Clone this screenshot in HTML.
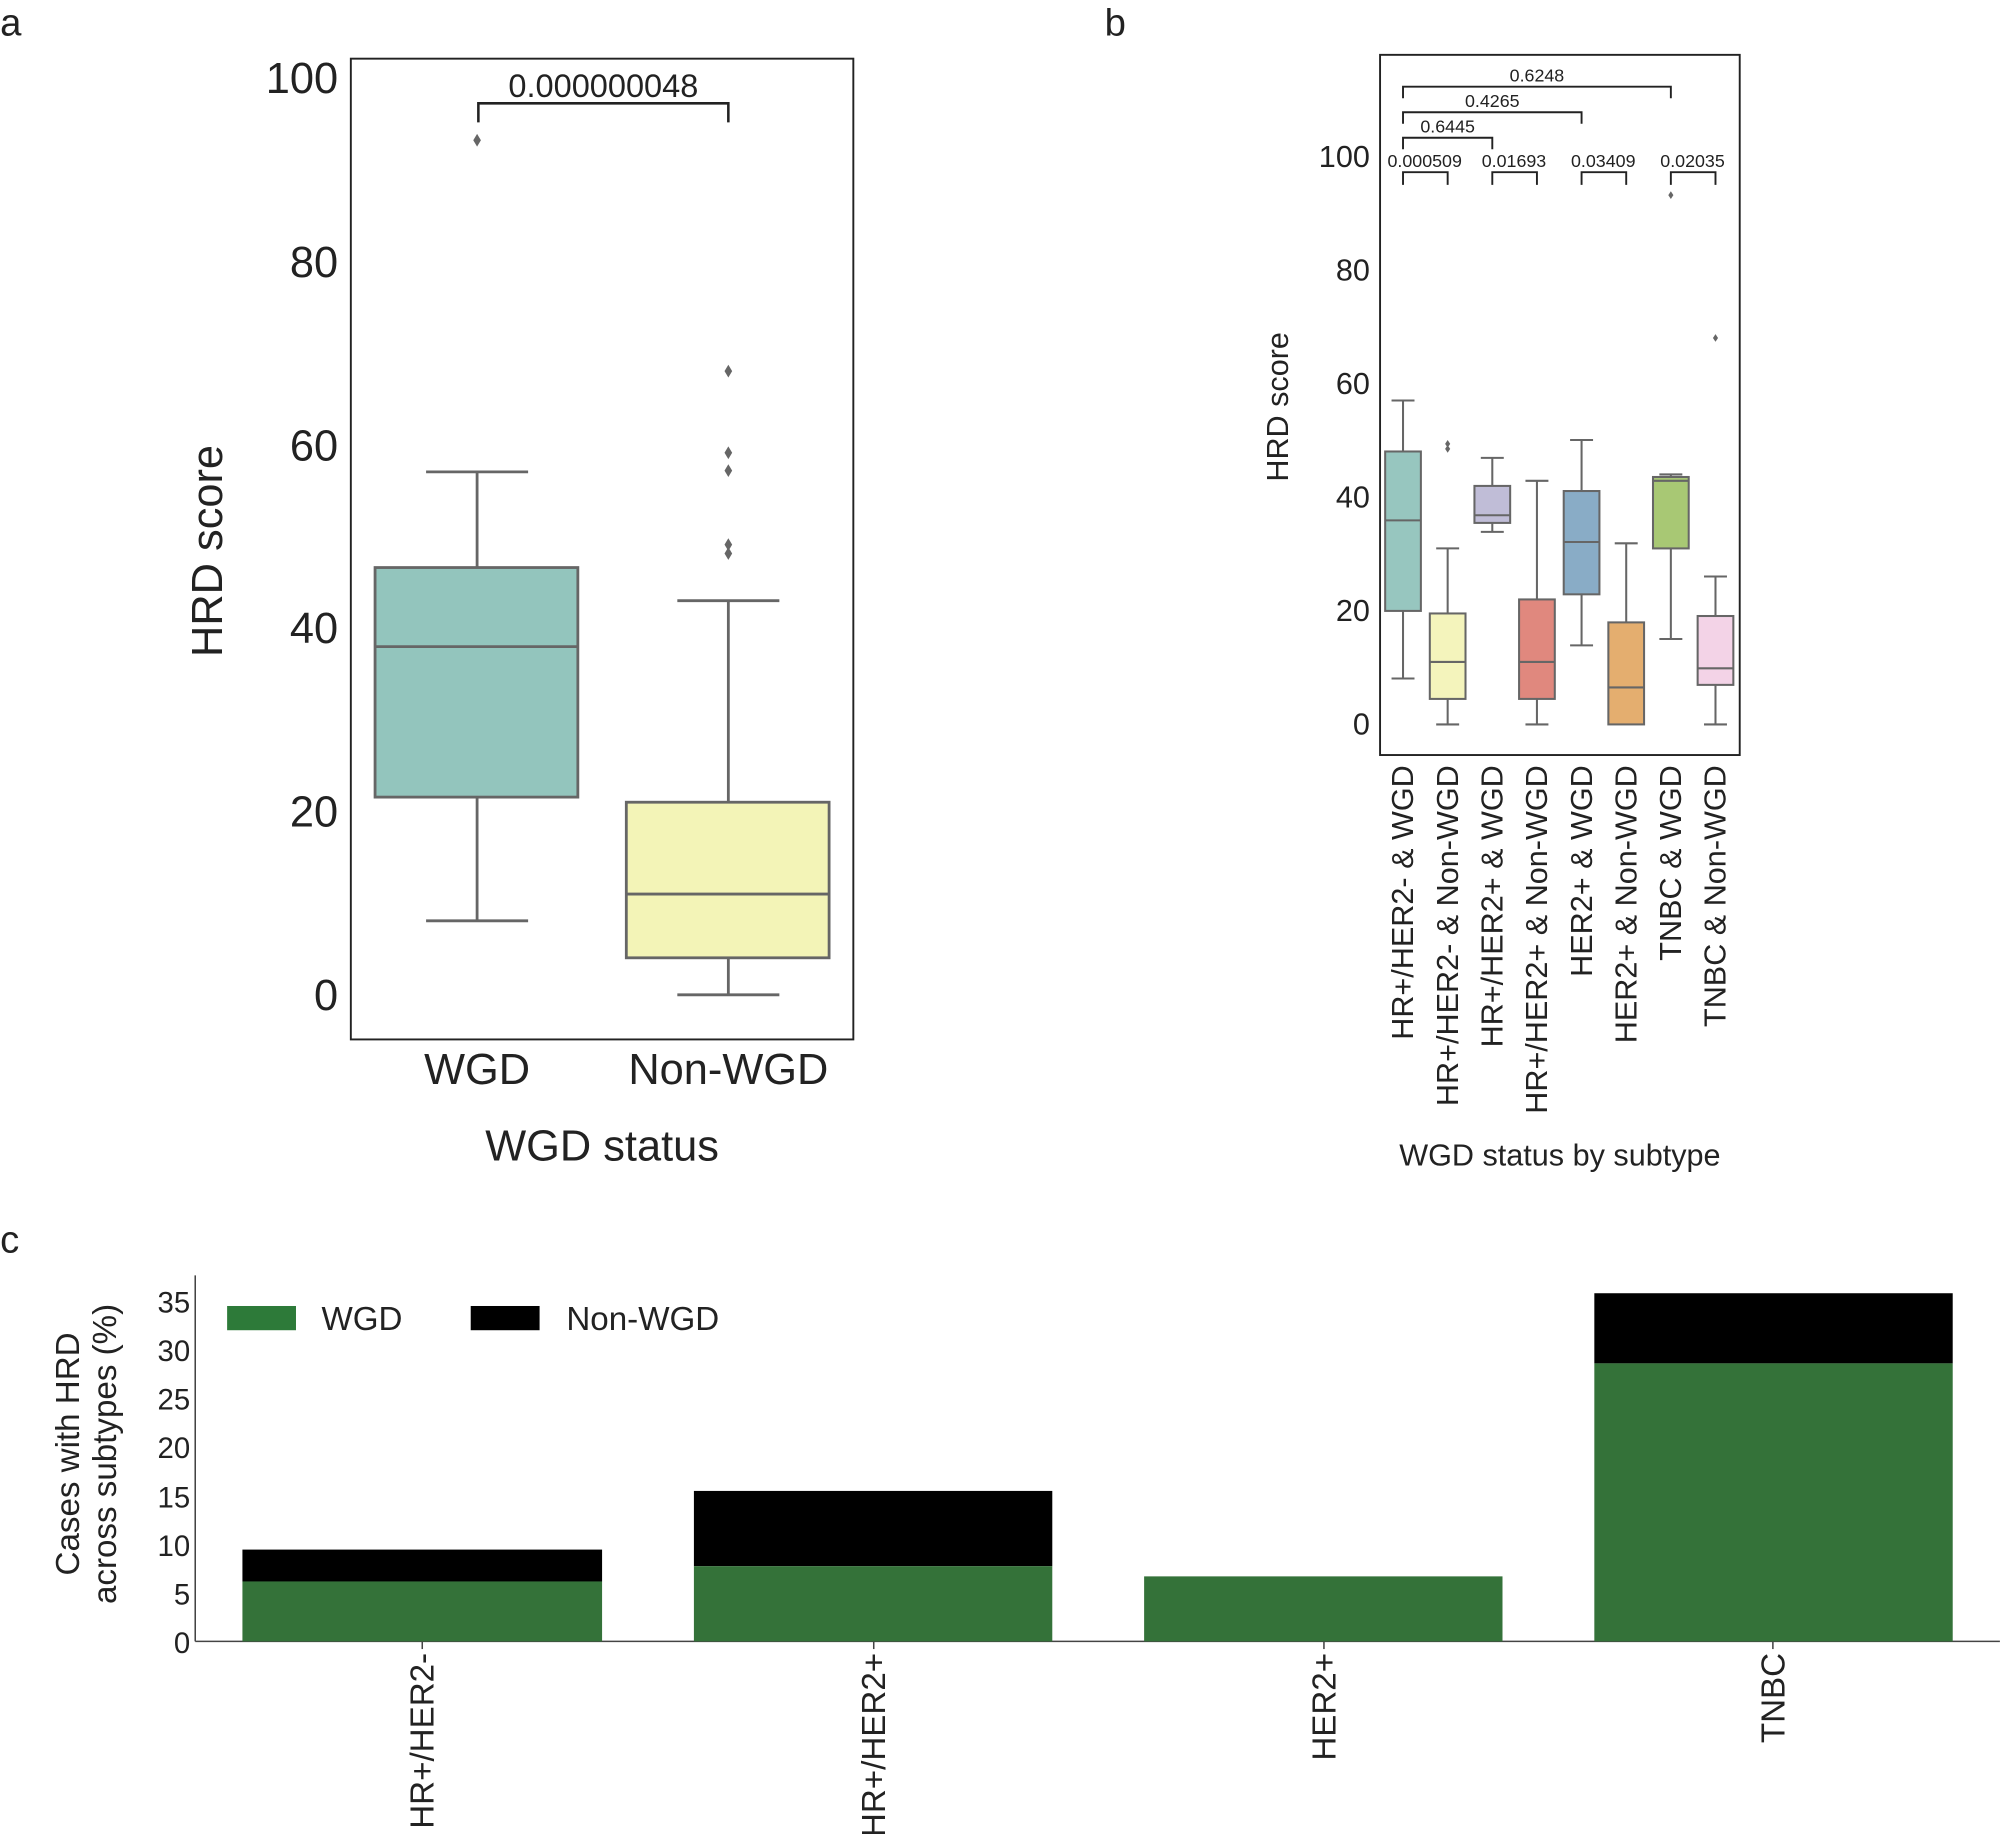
<!DOCTYPE html>
<html><head><meta charset="utf-8"><style>html,body{margin:0;padding:0;background:#fff}svg{display:block}</style></head>
<body>
<svg width="2000" height="1834" viewBox="0 0 1568 1438" xmlns="http://www.w3.org/2000/svg" font-family="Liberation Sans, sans-serif" fill="#222">
<rect width="1568" height="1438" fill="#fff"/>
<text x="0" y="28" font-size="30">a</text>
<text x="866" y="28" font-size="30">b</text>
<text x="0" y="982" font-size="30">c</text>

<!-- Panel a -->
<rect x="275" y="46" width="394" height="769" fill="none" stroke="#222" stroke-width="1.5"/>
<g font-size="34" text-anchor="end">
<text x="265" y="73">100</text><text x="265" y="217">80</text><text x="265" y="361">60</text>
<text x="265" y="504">40</text><text x="265" y="648">20</text><text x="265" y="792">0</text>
</g>
<g stroke="#666" stroke-width="2.2">
<line x1="374" y1="370" x2="374" y2="445"/><line x1="374" y1="625" x2="374" y2="722"/>
<line x1="334" y1="370" x2="414" y2="370"/><line x1="334" y1="722" x2="414" y2="722"/>
<rect x="294" y="445" width="159" height="180" fill="#93c5bd"/>
<line x1="294" y1="507" x2="453" y2="507"/>
<line x1="571" y1="471" x2="571" y2="629"/><line x1="571" y1="751" x2="571" y2="780"/>
<line x1="531" y1="471" x2="611" y2="471"/><line x1="531" y1="780" x2="611" y2="780"/>
<rect x="491" y="629" width="159" height="122" fill="#f3f4b7"/>
<line x1="491" y1="701" x2="650" y2="701"/>
</g>
<g fill="#666">
<path d="M374 105l3 5-3 5-3-5z"/><path d="M571 286l3 5-3 5-3-5z"/><path d="M571 350l3 5-3 5-3-5z"/>
<path d="M571 364l3 5-3 5-3-5z"/><path d="M571 422l3 5-3 5-3-5z"/><path d="M571 429l3 5-3 5-3-5z"/>
</g>
<path d="M375 96V81H571V96" fill="none" stroke="#222" stroke-width="2"/>
<text x="473" y="76" font-size="25.5" text-anchor="middle">0.000000048</text>
<text x="374" y="850" font-size="34" text-anchor="middle">WGD</text>
<text x="571" y="850" font-size="34" text-anchor="middle">Non-WGD</text>
<text x="472" y="910" font-size="34" text-anchor="middle">WGD status</text>
<text transform="translate(174,432) rotate(-90)" font-size="34" text-anchor="middle">HRD score</text>

<!-- Panel b -->
<rect x="1082" y="43" width="282" height="549" fill="none" stroke="#222" stroke-width="1.5"/>
<g font-size="24" text-anchor="end">
<text x="1074" y="131">100</text><text x="1074" y="220">80</text><text x="1074" y="309">60</text>
<text x="1074" y="398">40</text><text x="1074" y="487">20</text><text x="1074" y="576">0</text>
</g>
<g stroke="#666" stroke-width="1.6">
<line x1="1100" y1="314" x2="1100" y2="532"/><line x1="1091" y1="314" x2="1109" y2="314"/><line x1="1091" y1="532" x2="1109" y2="532"/>
<rect x="1086" y="354" width="28" height="125" fill="#97c6bf"/><line x1="1086" y1="408" x2="1114" y2="408"/>
<line x1="1135" y1="430" x2="1135" y2="568"/><line x1="1126" y1="430" x2="1144" y2="430"/><line x1="1126" y1="568" x2="1144" y2="568"/>
<rect x="1121" y="481" width="28" height="67" fill="#f4f4bc"/><line x1="1121" y1="519" x2="1149" y2="519"/>
<line x1="1170" y1="359" x2="1170" y2="417"/><line x1="1161" y1="359" x2="1179" y2="359"/><line x1="1161" y1="417" x2="1179" y2="417"/>
<rect x="1156" y="381" width="28" height="29" fill="#c0bdd7"/><line x1="1156" y1="404" x2="1184" y2="404"/>
<line x1="1205" y1="377" x2="1205" y2="568"/><line x1="1196" y1="377" x2="1214" y2="377"/><line x1="1196" y1="568" x2="1214" y2="568"/>
<rect x="1191" y="470" width="28" height="78" fill="#e0887e"/><line x1="1191" y1="519" x2="1219" y2="519"/>
<line x1="1240" y1="345" x2="1240" y2="506"/><line x1="1231" y1="345" x2="1249" y2="345"/><line x1="1231" y1="506" x2="1249" y2="506"/>
<rect x="1226" y="385" width="28" height="81" fill="#89acc6"/><line x1="1226" y1="425" x2="1254" y2="425"/>
<line x1="1275" y1="426" x2="1275" y2="488"/><line x1="1266" y1="426" x2="1284" y2="426"/>
<rect x="1261" y="488" width="28" height="80" fill="#e4ae6f"/><line x1="1261" y1="539" x2="1289" y2="539"/>
<line x1="1310" y1="372" x2="1310" y2="501"/><line x1="1301" y1="372" x2="1319" y2="372"/><line x1="1301" y1="501" x2="1319" y2="501"/>
<rect x="1296" y="374" width="28" height="56" fill="#a8c874"/><line x1="1296" y1="377" x2="1324" y2="377"/>
<line x1="1345" y1="452" x2="1345" y2="568"/><line x1="1336" y1="452" x2="1354" y2="452"/><line x1="1336" y1="568" x2="1354" y2="568"/>
<rect x="1331" y="483" width="28" height="54" fill="#f3d3e7"/><line x1="1331" y1="524" x2="1359" y2="524"/>
</g>
<g fill="#666">
<path d="M1135 345l2 3-2 3-2-3z"/><path d="M1135 349l2 3-2 3-2-3z"/>
<path d="M1310 150l2 3-2 3-2-3z"/><path d="M1345 262l2 3-2 3-2-3z"/>
</g>
<g fill="none" stroke="#222" stroke-width="1.5">
<path d="M1100 145V135H1135V145"/><path d="M1170 145V135H1205V145"/><path d="M1240 145V135H1275V145"/><path d="M1310 145V135H1345V145"/>
<path d="M1100 117V108H1170V117"/><path d="M1100 97V88H1240V97"/><path d="M1100 77V68H1310V77"/>
</g>
<g font-size="14" text-anchor="middle">
<text x="1117" y="131">0.000509</text><text x="1187" y="131">0.01693</text><text x="1257" y="131">0.03409</text><text x="1327" y="131">0.02035</text>
<text x="1135" y="104">0.6445</text><text x="1170" y="84">0.4265</text><text x="1205" y="64">0.6248</text>
</g>
<g font-size="24" text-anchor="end">
<text transform="translate(1108,600) rotate(-90)">HR+/HER2- &amp; WGD</text>
<text transform="translate(1143,600) rotate(-90)">HR+/HER2- &amp; Non-WGD</text>
<text transform="translate(1178,600) rotate(-90)">HR+/HER2+ &amp; WGD</text>
<text transform="translate(1213,600) rotate(-90)">HR+/HER2+ &amp; Non-WGD</text>
<text transform="translate(1248,600) rotate(-90)">HER2+ &amp; WGD</text>
<text transform="translate(1283,600) rotate(-90)">HER2+ &amp; Non-WGD</text>
<text transform="translate(1318,600) rotate(-90)">TNBC &amp; WGD</text>
<text transform="translate(1353,600) rotate(-90)">TNBC &amp; Non-WGD</text>
</g>
<text x="1223" y="914" font-size="24" text-anchor="middle">WGD status by subtype</text>
<text transform="translate(1010,319) rotate(-90)" font-size="24" text-anchor="middle">HRD score</text>

<!-- Panel c -->
<line x1="153" y1="1000" x2="153" y2="1287" stroke="#444" stroke-width="1.2"/>
<line x1="153" y1="1287" x2="1568" y2="1287" stroke="#444" stroke-width="1.2"/>
<g font-size="23" text-anchor="end">
<text x="149" y="1296">0</text><text x="149" y="1258">5</text><text x="149" y="1220">10</text>
<text x="149" y="1182">15</text><text x="149" y="1143">20</text><text x="149" y="1105">25</text>
<text x="149" y="1067">30</text><text x="149" y="1029">35</text>
</g>
<rect x="190" y="1215" width="282" height="25" fill="#000"/><rect x="190" y="1240" width="282" height="47" fill="#347239"/>
<rect x="544" y="1169" width="281" height="59" fill="#000"/><rect x="544" y="1228" width="281" height="59" fill="#347239"/>
<rect x="897" y="1236" width="281" height="51" fill="#347239"/>
<rect x="1250" y="1014" width="281" height="55" fill="#000"/><rect x="1250" y="1069" width="281" height="218" fill="#347239"/>
<g stroke="#444" stroke-width="1.2">
<line x1="331" y1="1287" x2="331" y2="1293"/><line x1="685" y1="1287" x2="685" y2="1293"/>
<line x1="1038" y1="1287" x2="1038" y2="1293"/><line x1="1390" y1="1287" x2="1390" y2="1293"/>
</g>
<rect x="178" y="1024" width="54" height="19" fill="#2d7a39"/>
<text x="252" y="1043" font-size="26">WGD</text>
<rect x="369" y="1024" width="54" height="19" fill="#000"/>
<text x="444" y="1043" font-size="26">Non-WGD</text>
<g font-size="26" text-anchor="end">
<text transform="translate(340,1296) rotate(-90)">HR+/HER2-</text>
<text transform="translate(694,1296) rotate(-90)">HR+/HER2+</text>
<text transform="translate(1047,1296) rotate(-90)">HER2+</text>
<text transform="translate(1399,1296) rotate(-90)">TNBC</text>
</g>
<text transform="translate(62,1140) rotate(-90)" font-size="26" text-anchor="middle">Cases with HRD</text>
<text transform="translate(91,1140) rotate(-90)" font-size="26" text-anchor="middle">across subtypes (%)</text>
</svg>
</body></html>
